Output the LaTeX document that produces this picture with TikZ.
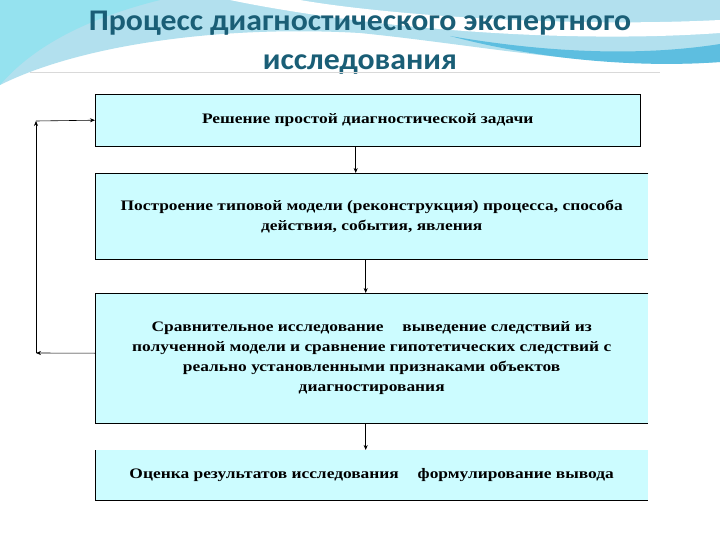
\documentclass[tikz,border=0pt]{standalone}
\usepackage{fontspec}
\setmainfont{Liberation Serif}
\newfontfamily\titlefont[FakeStretch=1.06]{Carlito}
\newfontfamily\boxfont[FakeStretch=1.2]{Liberation Serif}
\usepackage{xcolor}
\usetikzlibrary{arrows.meta,positioning,calc}
\definecolor{boxfill}{HTML}{CCFCFF}
\definecolor{titleblue}{HTML}{1A5E76}
\definecolor{wavelight}{HTML}{B2E0EE}
\definecolor{wavecyan}{HTML}{95E2EF}
\definecolor{wavedark}{HTML}{5DBEE0}

\begin{document}
\begin{tikzpicture}[
  x=1pt, y=-1pt,
  box/.style={fill=boxfill, anchor=north west, inner sep=0pt, align=center,
    font=\boxfont\fontsize{14.5}{20}\selectfont\bfseries},
  frame/.style={draw=black, line width=0.8pt},
  arr/.style={-{Stealth[length=5pt, width=4pt]}, line width=0.6pt},
  every node/.style={text=black}
]
  \useasboundingbox (0,0) rectangle (720,540);
  \fill[white] (0,0) rectangle (720,540);

  % Background waves
  \fill[wavelight] (0,0) -- (720,0) -- (720,62) .. controls (600,70) and (480,45) .. (360,33)
    .. controls (220,25) and (80,45) .. (0,85) -- cycle;
  \fill[wavecyan] (0,0) -- (160,0) .. controls (80,20) and (30,50) .. (0,85) -- cycle;
  \fill[white] (230,0) .. controls (350,25) and (550,45) .. (720,33) -- (720,20)
    .. controls (560,28) and (380,14) .. (300,0) -- cycle;
  \fill[wavedark] (450,36) .. controls (560,55) and (650,55) .. (720,44) -- (720,62)
    .. controls (640,68) and (540,60) .. (450,36) -- cycle;

  % Title
  \node[font=\titlefont\fontsize{30}{39}\selectfont\bfseries, text=titleblue,
    align=center] (title) at (360,43) {Процесс диагностического экспертного\\исследования};
  \draw[black!15, line width=1pt] (30,73) -- (660,73);

  % Boxes
  \node[box, minimum width=545pt, minimum height=52pt] (b1) at (95,94)
    {Решение простой диагностической задачи};
  \node[box, minimum width=553pt, minimum height=86pt] (b2) at (95,173)
    {Построение типовой модели (реконструкция) процесса, способа\\
     действия, события, явления};
  \node[box, minimum width=553pt, minimum height=130pt] (b3) at (95,293)
    {Сравнительное исследование \quad выведение следствий из\\
     полученной модели и сравнение гипотетических следствий с\\
     реально установленными признаками объектов\\
     диагностирования};
  \node[box, minimum width=553pt, minimum height=50pt] (b4) at (95,450)
    {Оценка результатов исследования \quad формулирование вывода};

  % Box borders
  \draw[frame] (b1.north west) rectangle (b1.south east);
  \foreach \b in {b2,b3} {
    \draw[frame] (\b.north east) -- (\b.north west) -- (\b.south west) -- (\b.south east);
  }
  \draw[frame] (b4.north west) -- (b4.south west) -- (b4.south east);

  % Main flow
  \draw[arr] ([xshift=-12pt]b1.south) -- ([xshift=-12pt]b1.south |- b2.north);
  \draw[arr] ([xshift=-6pt]b2.south) -- ([xshift=-6pt]b2.south |- b3.north);
  \draw[arr] ([xshift=-6pt]b3.south) -- ([xshift=-6pt]b3.south |- b4.north);

  % Feedback loop
  \coordinate (fbl) at (36,353);
  \coordinate (fbt) at (36,121);
  \draw[arr] ([yshift=5pt]b3.west) -- (fbl);
  \draw[arr] (fbl) -- (fbt);
  \draw[arr] (fbt) -- (b1.west);
\end{tikzpicture}
\end{document}
